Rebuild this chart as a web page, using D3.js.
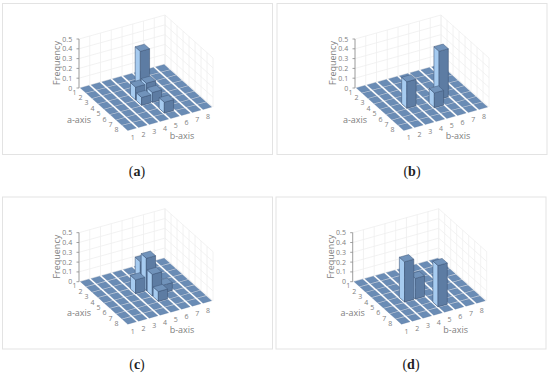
<!DOCTYPE html>
<html>
<head>
<meta charset="utf-8">
<script src="https://cdn.jsdelivr.net/npm/d3@7"></script>
<style>
    html, body { margin: 0; padding: 0; background: #fff; }
    text { font-family: "Open Sans", sans-serif; fill: #808080; }
    .caption { font-family: "Liberation Serif", serif; font-size: 14px; fill: #222; }
</style>
</head>
<body>
<div id="chart"></div>
<script>
// category labels for the two floor axes and the frequency ticks
const aCategories = [1, 2, 3, 4, 5, 6, 7, 8];
const bCategories = [1, 2, 3, 4, 5, 6, 7, 8];
const freqTicks = [0, 0.1, 0.2, 0.3, 0.4, 0.5];

// non zero cells of each histogram: [a, b, frequency]
const barsA = [[3, 5, 0.41], [4, 4, 0.13], [4, 5, 0.14], [5, 4, 0.08], [5, 5, 0.1], [7, 5, 0.11]];
const barsB = [[5, 3, 0.27], [5, 6, 0.49], [6, 5, 0.15]];
const barsC = [[3, 5, 0.24], [4, 4, 0.14], [4, 5, 0.33], [5, 5, 0.22], [5, 6, 0.08], [6, 5, 0.1]];
const barsD = [[5, 3, 0.41], [5, 4, 0.21], [7, 5, 0.42]];

const panelNames = ["a", "b", "c", "d"];
const panelBars = [barsA, barsB, barsC, barsD];

const svg = d3.select("#chart")
    .append("svg")
    .attr("width", 550)
    .attr("height", 375)
    .style("display", "block");

// Each floor axis runs diagonally on screen, so it needs an x and a y scale
const aX = d3.scaleLinear().domain([0, 8]).range([0, 48]);
const aY = d3.scaleLinear().domain([0, 8]).range([0, 43]);
const bX = d3.scaleLinear().domain([0, 8]).range([0, 86]);
const bY = d3.scaleLinear().domain([0, 8]).range([0, -24]);
const zY = d3.scaleLinear().domain([0, 0.5]).range([0, -49]);

function project(a, b, z) {
    return [aX(a) + bX(b), aY(a) + bY(b) + zY(z)];
}

function poly(g, pts, fill, stroke, width) {
    g.append("polygon")
        .attr("points", pts.map(p => p.join(",")).join(" "))
        .attr("fill", fill)
        .attr("stroke", stroke || "none")
        .attr("stroke-width", width || 0)
        .attr("stroke-linejoin", "round");
}

function line(g, p, q, color, width) {
    g.append("line")
        .attr("x1", p[0]).attr("y1", p[1])
        .attr("x2", q[0]).attr("y2", q[1])
        .attr("stroke", color)
        .attr("stroke-width", width);
}

// Floor tile: the white gaps between columns are wider than between rows
function drawTile(g, a, b) {
    const gapA = 0.05, gapB = 0.1;
    const a0 = a - 1 + gapA, a1 = a - gapA;
    const b0 = b - 1 + gapB, b1 = b - gapB;
    poly(g, [project(a0, b0, 0), project(a1, b0, 0), project(a1, b1, 0), project(a0, b1, 0)], "#6a8cb5", "#56759c", 0.3);
}

function drawBar(g, a, b, value) {
    const gapA = 0.07, gapB = 0.07;
    const a0 = a - 1 + gapA, a1 = a - gapA;
    const b0 = b - 1 + gapB, b1 = b - gapB;
    const edge = "#41597a";
    poly(g, [project(a0, b0, 0), project(a1, b0, 0), project(a1, b0, value), project(a0, b0, value)], "#a6cbf0", edge, 0.6);
    poly(g, [project(a1, b0, 0), project(a1, b1, 0), project(a1, b1, value), project(a1, b0, value)], "#5d7ca3", edge, 0.6);
    poly(g, [project(a0, b0, value), project(a1, b0, value), project(a1, b1, value), project(a0, b1, value)], "#7193bb", edge, 0.5);
}

function drawPanel(name, bars, frame, origin, captionX, captionY) {
    svg.append("rect")
        .attr("x", frame[0]).attr("y", frame[1])
        .attr("width", frame[2]).attr("height", frame[3])
        .attr("fill", "#fff")
        .attr("stroke", "#e3e3e3")
        .attr("stroke-width", 1);

    const g = svg.append("g").attr("transform", `translate(${origin[0]}, ${origin[1]})`);

    // back walls
    freqTicks.forEach(t => {
        line(g, project(0, 0, t), project(0, 8, t), "#efefef", 0.8);
        line(g, project(0, 8, t), project(8, 8, t), "#efefef", 0.8);
    });
    d3.range(0, 9).forEach(i => {
        line(g, project(0, i, 0), project(0, i, 0.5), "#efefef", 0.8);
        line(g, project(i, 8, 0), project(i, 8, 0.5), "#efefef", 0.8);
    });

    // frequency axis
    line(g, project(0, 0, 0), project(0, 0, 0.5), "#8a8a8a", 0.8);
    freqTicks.forEach(t => {
        const p = project(0, 0, t);
        line(g, [p[0] - 2.5, p[1]], p, "#8a8a8a", 0.8);
        g.append("text")
            .attr("x", p[0] - 6.8)
            .attr("y", p[1] + 2.5)
            .attr("text-anchor", "end")
            .attr("font-size", 7)
            .text(t);
    });

    // floor and bars, painted back to front
    const cells = [];
    aCategories.forEach(a => bCategories.forEach(b => {
        const hit = bars.find(d => d[0] === a && d[1] === b);
        cells.push({ a, b, value: hit ? hit[2] : 0 });
    }));
    cells.forEach(c => drawTile(g, c.a, c.b));
    cells.filter(c => c.value > 0)
        .sort((p, q) => (p.a - p.b) - (q.a - q.b))
        .forEach(c => drawBar(g, c.a, c.b, c.value));

    // floor axis labels
    aCategories.forEach(a => {
        const p = project(a - 0.5, 0, 0);
        g.append("text")
            .attr("x", p[0] - 7.5)
            .attr("y", p[1] + 4)
            .attr("text-anchor", "middle")
            .attr("font-size", 7)
            .text(a);
    });
    bCategories.forEach(b => {
        const p = project(8, b - 0.5, 0);
        g.append("text")
            .attr("x", p[0] + 0.5)
            .attr("y", p[1] + 10.5)
            .attr("text-anchor", "middle")
            .attr("font-size", 7)
            .text(b);
    });

    g.append("text")
        .attr("transform", "translate(-19, -25) rotate(-90)")
        .attr("text-anchor", "middle")
        .attr("font-size", 9)
        .text("Frequency");
    g.append("text")
        .attr("x", 0).attr("y", 34.5)
        .attr("text-anchor", "middle")
        .attr("font-size", 9)
        .text("a-axis");
    g.append("text")
        .attr("x", 103).attr("y", 51)
        .attr("text-anchor", "middle")
        .attr("font-size", 9)
        .text("b-axis");

    // (a) style caption with bold letter
    const cap = svg.append("text")
        .attr("class", "caption")
        .attr("x", captionX)
        .attr("y", captionY)
        .attr("text-anchor", "middle");
    cap.append("tspan").text("(");
    cap.append("tspan").attr("font-weight", "bold").text(name);
    cap.append("tspan").text(")");
}

const frames = [[2.5, 3.5, 270, 151], [277, 3.5, 270, 151], [2.5, 197, 270, 152], [276, 197, 270, 152]];
const origins = [[79, 88], [355, 88], [79, 281.7], [352.7, 281.7]];
const captions = [[137, 176], [412, 176], [137, 369], [411, 369]];

panelNames.forEach((name, i) => {
    drawPanel(name, panelBars[i], frames[i], origins[i], captions[i][0], captions[i][1]);
});
</script>
</body>
</html>
